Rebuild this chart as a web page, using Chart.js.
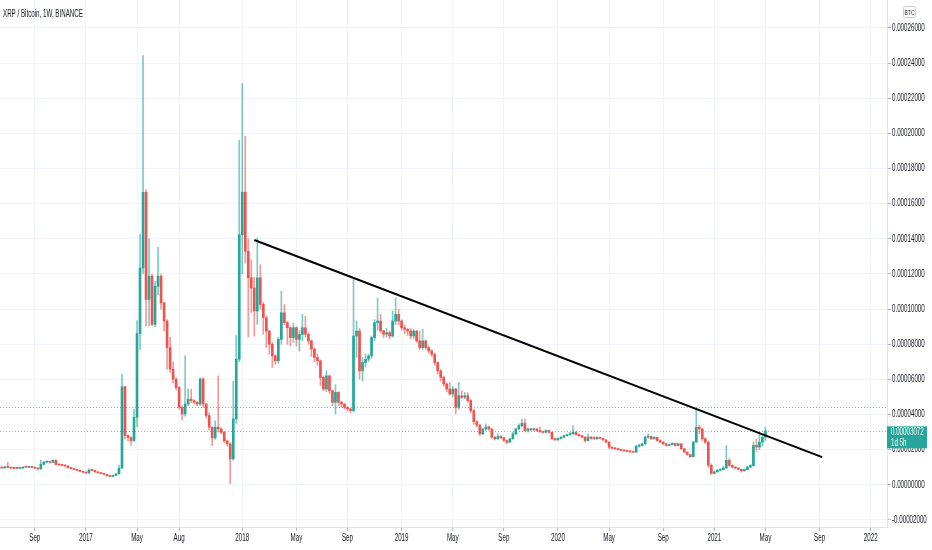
<!DOCTYPE html>
<html>
<head>
<meta charset="utf-8">
<script src="https://cdn.jsdelivr.net/npm/chart.js@4.4.1/dist/chart.umd.min.js"></script>
<style>
  html, body { margin: 0; padding: 0; background: #fff; }
  #wrap { width: 932px; height: 550px; position: relative; }
</style>
</head>
<body>
<div id="wrap"><canvas id="myChart"></canvas></div>
<script>
// XRP / BTC weekly candles, values in satoshi (1e-8 BTC)
const title = 'XRP / Bitcoin, 1W, BINANCE';
const firstBar = '2016-06-20';

const opens = [
  980, 960, 1020, 990, 950, 940, 935, 950, 1010, 1000,
  1020, 990, 950, 905, 1160, 1290, 1300, 1275, 1390, 1160,
  1130, 1105, 1075, 975, 920, 880, 820, 765, 710, 670,
  850, 820, 735, 680, 635, 595, 510, 480, 540, 625,
  950, 5580, 2800, 2680, 2520, 3840, 8600, 12340, 16650, 10550,
  11870, 9130, 11300, 11870, 10360, 9320, 7810, 6580, 6015, 5540,
  4410, 4030, 4600, 4880, 4790, 4690, 4600, 6015, 4600, 3940,
  3280, 2670, 3280, 3180, 2990, 2500, 2330, 1480, 3750, 7150,
  14230, 16650, 13290, 11780, 11200, 9890, 11780, 10265, 9510, 8750,
  8000, 7340, 7060, 8280, 9790, 9230, 8940, 8380, 8940, 8280,
  8560, 8940, 8570, 8190, 7720, 7250, 7060, 6110, 5450, 6200,
  5350, 4700, 5260, 4700, 4600, 4410, 4320, 4220, 8470, 8750,
  6490, 6960, 7150, 7340, 8380, 9230, 9320, 8760, 8570, 8660,
  8470, 9320, 9700, 9320, 8940, 8850, 8750, 8470, 8750, 8190,
  7810, 8190, 7810, 7620, 7430, 6960, 6490, 6110, 5740, 5450,
  5170, 5450, 4410, 5070, 4980, 5070, 4790, 4220, 3590, 3400,
  2900, 3180, 3290, 3180, 2710, 2620, 2750, 2680, 2520, 2430,
  2620, 2900, 3180, 3370, 3500, 3090, 3180, 3130, 3180, 3090,
  3020, 2990, 3090, 2990, 2620, 2560, 2640, 2710, 2800, 2850,
  2900, 2990, 2860, 2800, 2710, 2520, 2710, 2640, 2620, 2700,
  2640, 2560, 2430, 2140, 2080, 2050, 2000, 1960, 1930, 1900,
  1880, 1860, 2200, 2240, 2330, 2710, 2750, 2620, 2700, 2520,
  2430, 2330, 2240, 2290, 2360, 2240, 2330, 2050, 1860, 1720,
  1600, 2430, 3280, 3180, 2620, 2430, 1110, 650, 740, 830,
  870, 960, 1390, 1100, 1000, 950, 880, 800, 870, 1010,
  1100, 2240, 2150, 2430, 2710
];
const highs = [
  1010, 1060, 1290, 1000, 970, 960, 980, 1040, 1030, 1040,
  1030, 1000, 960, 1410, 1330, 1360, 1340, 1420, 1420, 1180,
  1150, 1120, 1090, 990, 940, 900, 840, 780, 725, 900,
  870, 835, 750, 700, 650, 610, 530, 560, 650, 1130,
  6300, 5600, 2850, 2750, 4300, 9350, 14270, 24430, 16800, 14000,
  12000, 11600, 13510, 12000, 10400, 9400, 8400, 7000, 6100, 5600,
  4500, 7340, 5450, 5450, 4850, 4750, 6100, 6100, 4650, 4100,
  3300, 3650, 6200, 3250, 3050, 2550, 2400, 5900, 8500, 19610,
  22830, 19850, 14000, 12800, 11800, 14040, 12530, 10400, 9600, 8800,
  8100, 7400, 8400, 11020, 10260, 9300, 9000, 9200, 9000, 8800,
  9700, 9600, 8650, 8250, 7800, 7450, 7100, 6200, 6490, 6250,
  5400, 5700, 5300, 4750, 4650, 4450, 4350, 11680, 9320, 8900,
  7250, 7450, 7430, 8470, 9400, 10640, 9700, 8800, 8900, 8750,
  9890, 10640, 10000, 9400, 9100, 8900, 8900, 8850, 8800, 8750,
  8850, 8250, 7900, 7700, 7500, 7000, 6550, 6200, 5800, 5830,
  5600, 5500, 5830, 5350, 5260, 5250, 4850, 4300, 3650, 3450,
  3200, 3470, 3350, 3200, 2750, 2900, 2800, 2700, 2560, 2650,
  3000, 3220, 3470, 3740, 3740, 3250, 3220, 3230, 3200, 3280,
  3060, 3130, 3120, 3000, 2660, 2680, 2750, 2830, 2880, 2990,
  3370, 3050, 2900, 2830, 2740, 2900, 2760, 2750, 2730, 2720,
  2660, 2580, 2450, 2170, 2110, 2080, 2030, 1990, 1950, 1930,
  1910, 2230, 2300, 2380, 2770, 2900, 2780, 2740, 2720, 2560,
  2460, 2360, 2330, 2400, 2380, 2370, 2350, 2070, 1880, 1740,
  2480, 4390, 3400, 3200, 2680, 2500, 1200, 800, 880, 920,
  1050, 2240, 1500, 1130, 1040, 980, 900, 900, 1050, 1150,
  2430, 2600, 2900, 2800, 3290
];
const lows = [
  930, 950, 970, 930, 920, 910, 920, 940, 985, 990,
  970, 930, 890, 890, 1140, 1250, 1240, 1260, 1130, 1100,
  1080, 1040, 950, 900, 860, 800, 750, 690, 650, 660,
  800, 720, 660, 620, 580, 490, 460, 470, 530, 610,
  930, 2600, 2500, 2240, 2450, 3300, 7700, 12000, 9040, 9040,
  9040, 9000, 10800, 10000, 8750, 6580, 6400, 5800, 5400, 4300,
  3680, 3900, 4500, 4700, 4600, 4500, 4500, 4400, 3800, 3100,
  2240, 2600, 3000, 2900, 2400, 2200, 65, 1400, 3500, 7000,
  12000, 12600, 8400, 9800, 8460, 9130, 10000, 8570, 7800, 7430,
  6680, 6870, 6900, 8000, 9100, 8000, 7900, 8100, 7900, 7600,
  8200, 8400, 8000, 7300, 7000, 6800, 5650, 5350, 5300, 5200,
  4500, 4040, 4500, 4400, 4300, 4200, 4100, 4150, 7250, 6020,
  5900, 6700, 7000, 7200, 8200, 8800, 8650, 8380, 8400, 8300,
  8400, 9100, 9100, 8800, 8600, 8500, 8300, 8300, 8100, 7700,
  7700, 7700, 7500, 7300, 6800, 6300, 5900, 5600, 5300, 5100,
  5000, 4040, 4300, 4900, 4900, 4700, 4100, 3450, 3300, 2800,
  2850, 3100, 3100, 2650, 2550, 2580, 2620, 2480, 2330, 2400,
  2600, 2850, 3150, 3300, 3050, 3000, 3080, 3090, 3040, 2980,
  2950, 2960, 2950, 2580, 2520, 2530, 2600, 2680, 2770, 2820,
  2870, 2830, 2760, 2680, 2430, 2500, 2600, 2580, 2590, 2610,
  2520, 2400, 2050, 2040, 2010, 1970, 1930, 1900, 1870, 1850,
  1830, 1840, 2150, 2200, 2300, 2650, 2580, 2590, 2480, 2400,
  2300, 2200, 2210, 2260, 2210, 2220, 2020, 1830, 1690, 1550,
  1580, 2400, 2900, 2500, 2330, 1000, 600, 620, 720, 800,
  850, 940, 1050, 960, 920, 850, 730, 770, 850, 980,
  1050, 1900, 2000, 2200, 2520
];
const closes = [
  960, 1020, 990, 950, 940, 935, 950, 1010, 1000, 1020,
  990, 950, 905, 1160, 1290, 1300, 1275, 1390, 1160, 1130,
  1105, 1075, 975, 920, 880, 820, 765, 710, 670, 850,
  820, 735, 680, 635, 595, 510, 480, 540, 625, 950,
  5580, 2800, 2680, 2520, 3840, 8600, 12340, 16650, 10550, 11870,
  9130, 11300, 11870, 10360, 9320, 7810, 6580, 6015, 5540, 4410,
  4030, 4600, 4880, 4790, 4690, 4600, 6015, 4600, 3940, 3280,
  2670, 3280, 3180, 2990, 2500, 2330, 1480, 3750, 7150, 14230,
  16650, 13290, 11780, 11200, 9890, 11780, 10265, 9510, 8750, 8000,
  7340, 7060, 8280, 9790, 9230, 8940, 8380, 8940, 8280, 8560,
  8940, 8570, 8190, 7720, 7250, 7060, 6110, 5450, 6200, 5350,
  4700, 5260, 4700, 4600, 4410, 4320, 4220, 8470, 8750, 6490,
  6960, 7150, 7340, 8380, 9230, 9320, 8760, 8570, 8660, 8470,
  9320, 9700, 9320, 8940, 8850, 8750, 8470, 8750, 8190, 7810,
  8190, 7810, 7620, 7430, 6960, 6490, 6110, 5740, 5450, 5170,
  5450, 4410, 5070, 4980, 5070, 4790, 4220, 3590, 3400, 2900,
  3180, 3290, 3180, 2710, 2620, 2750, 2680, 2520, 2430, 2620,
  2900, 3180, 3370, 3500, 3090, 3180, 3130, 3180, 3090, 3020,
  2990, 3090, 2990, 2620, 2560, 2640, 2710, 2800, 2850, 2900,
  2990, 2860, 2800, 2710, 2520, 2710, 2640, 2620, 2700, 2640,
  2560, 2430, 2140, 2080, 2050, 2000, 1960, 1930, 1900, 1880,
  1860, 2200, 2240, 2330, 2710, 2750, 2620, 2700, 2520, 2430,
  2330, 2240, 2290, 2360, 2240, 2330, 2050, 1860, 1720, 1600,
  2430, 3280, 3180, 2620, 2430, 1110, 650, 740, 830, 870,
  960, 1390, 1100, 1000, 950, 880, 800, 870, 1010, 1100,
  2240, 2150, 2430, 2710, 3072
];

// axis ticks
const tickDates = ['2016-09-05','2017-01-02','2017-05-01','2017-08-07','2018-01-01','2018-05-07',
  '2018-09-03','2019-01-07','2019-05-06','2019-09-02','2020-01-06','2020-05-04','2020-09-07',
  '2021-01-04','2021-05-03','2021-09-06','2022-01-03'];
const tickLabels = ['Sep','2017','May','Aug','2018','May','Sep','2019','May','Sep','2020',
  'May','Sep','2021','May','Sep','2022'];
const yTickValues = [-2000, 0, 2000, 4000, 6000, 8000, 10000, 12000, 14000,
  16000, 18000, 20000, 22000, 24000, 26000];

// drawn trend line and price marks
const trendDates = ['2018-01-29', '2021-09-12'];
const trendValues = [13930, 1580];
const lastPrice = 3072;
const countdown = '1d 5h';
const markLevel = 4420;

const viewFrom = '2016-06-16', viewTo = '2022-02-10';
const yMin = -2400, yMax = 27590;

const UP = '#26a69a', DOWN = '#ef5350';
const WICK_UP = 'rgba(38,166,154,0.6)', WICK_DOWN = 'rgba(239,83,80,0.6)';
const FONT = "'Liberation Sans', Arial, sans-serif";
const SQUEEZE = 0.62;   // the labels in the screenshot are very narrow

function day(s){
  const p = s.split('-').map(Number);
  return (Date.UTC(p[0], p[1]-1, p[2]) - Date.UTC(2017, 0, 1)) / 864e5;
}
const fmtBtc = v => (v / 1e8).toFixed(8);
const t0 = day(firstBar);
const barDays = closes.map((c, i) => t0 + 7*i);
const isUp = closes.map((c, i) => c >= opens[i]);

Chart.defaults.font.family = FONT;

// narrow text: draw with a horizontal squeeze
function narrowText(ctx, text, x, y, align){
  ctx.save();
  ctx.translate(x, y);
  ctx.scale(SQUEEZE, 1);
  ctx.textAlign = align;
  ctx.fillText(text, 0, 0);
  ctx.restore();
}

const overlay = {
  id: 'overlay',
  beforeDatasetsDraw(chart){
    const {ctx, chartArea: a, scales: {y}} = chart;
    ctx.save();
    ctx.lineWidth = 1;
    ctx.setLineDash([1, 2]);
    let py = Math.round(y.getPixelForValue(markLevel)) + 0.5;
    ctx.strokeStyle = '#a3a6af';
    ctx.beginPath(); ctx.moveTo(a.left, py); ctx.lineTo(a.right, py); ctx.stroke();
    py = Math.round(y.getPixelForValue(lastPrice)) + 0.5;
    ctx.strokeStyle = '#6cc4bb';
    ctx.beginPath(); ctx.moveTo(a.left, py); ctx.lineTo(a.right, py); ctx.stroke();
    ctx.restore();
  },
  afterDraw(chart){
    const {ctx, chartArea: a, scales: {x, y}} = chart;
    ctx.save();
    ctx.textBaseline = 'middle';
    ctx.fillStyle = '#131722';
    ctx.font = '10px ' + FONT;

    // axis labels
    y.ticks.forEach(t => {
      narrowText(ctx, fmtBtc(t.value), a.right + 5, y.getPixelForValue(t.value), 'left');
    });
    x.ticks.forEach((t, i) => {
      narrowText(ctx, tickLabels[i], x.getPixelForValue(t.value), a.bottom + 11, 'center');
    });

    // title
    narrowText(ctx, title, 3, 14, 'left');

    // currency box
    ctx.strokeStyle = '#c9cbd2';
    ctx.lineWidth = 1;
    ctx.beginPath();
    ctx.roundRect(903.5, 6.5, 12, 11, 2);
    ctx.stroke();
    ctx.font = '8px ' + FONT;
    narrowText(ctx, 'BTC', 909.5, 12.5, 'center');

    // last price label
    const py = y.getPixelForValue(lastPrice);
    ctx.fillStyle = UP;
    ctx.fillRect(a.right, py - 4.5, 40, 22);
    ctx.fillStyle = '#fff';
    ctx.font = '10px ' + FONT;
    narrowText(ctx, fmtBtc(lastPrice), a.right + 4, py + 1, 'left');
    narrowText(ctx, countdown, a.right + 4, py + 12.5, 'left');
    ctx.restore();
  }
};

new Chart(document.getElementById('myChart'), {
  type: 'bar',
  data: {
    datasets: [
      {
        type: 'line',
        data: trendDates.map((d, i) => ({x: day(d), y: trendValues[i]})),
        borderColor: '#000',
        borderWidth: 2,
        pointRadius: 0,
        order: 0
      },
      {
        data: barDays.map((x, i) => ({x: x, y: [opens[i], closes[i]]})),
        backgroundColor: isUp.map(u => u ? UP : DOWN),
        barThickness: 2,
        minBarLength: 1,
        grouped: false,
        order: 1
      },
      {
        data: barDays.map((x, i) => ({x: x, y: [lows[i], highs[i]]})),
        backgroundColor: isUp.map(u => u ? WICK_UP : WICK_DOWN),
        barThickness: 1,
        grouped: false,
        order: 2
      }
    ]
  },
  options: {
    animation: false,
    responsive: true,
    maintainAspectRatio: false,
    events: [],
    layout: { padding: 0 },
    plugins: { legend: { display: false }, tooltip: { enabled: false } },
    scales: {
      x: {
        type: 'linear',
        min: day(viewFrom),
        max: day(viewTo),
        offset: false,
        grid: { color: '#f0f3fa', offset: false, tickLength: 4, tickColor: '#b2b5be' },
        border: { color: '#e0e3eb' },
        afterBuildTicks: s => { s.ticks = tickDates.map(d => ({value: day(d)})); },
        afterFit: s => { s.height = 23; },
        ticks: { display: false, autoSkip: false, maxRotation: 0 }
      },
      y: {
        type: 'linear',
        position: 'right',
        min: yMin,
        max: yMax,
        grid: { color: '#f0f3fa', tickLength: 4, tickColor: '#b2b5be' },
        border: { color: '#e0e3eb' },
        afterBuildTicks: s => { s.ticks = yTickValues.map(v => ({value: v})); },
        afterFit: s => { s.width = 45; },
        ticks: { display: false }
      }
    }
  },
  plugins: [overlay]
});
</script>
</body>
</html>
